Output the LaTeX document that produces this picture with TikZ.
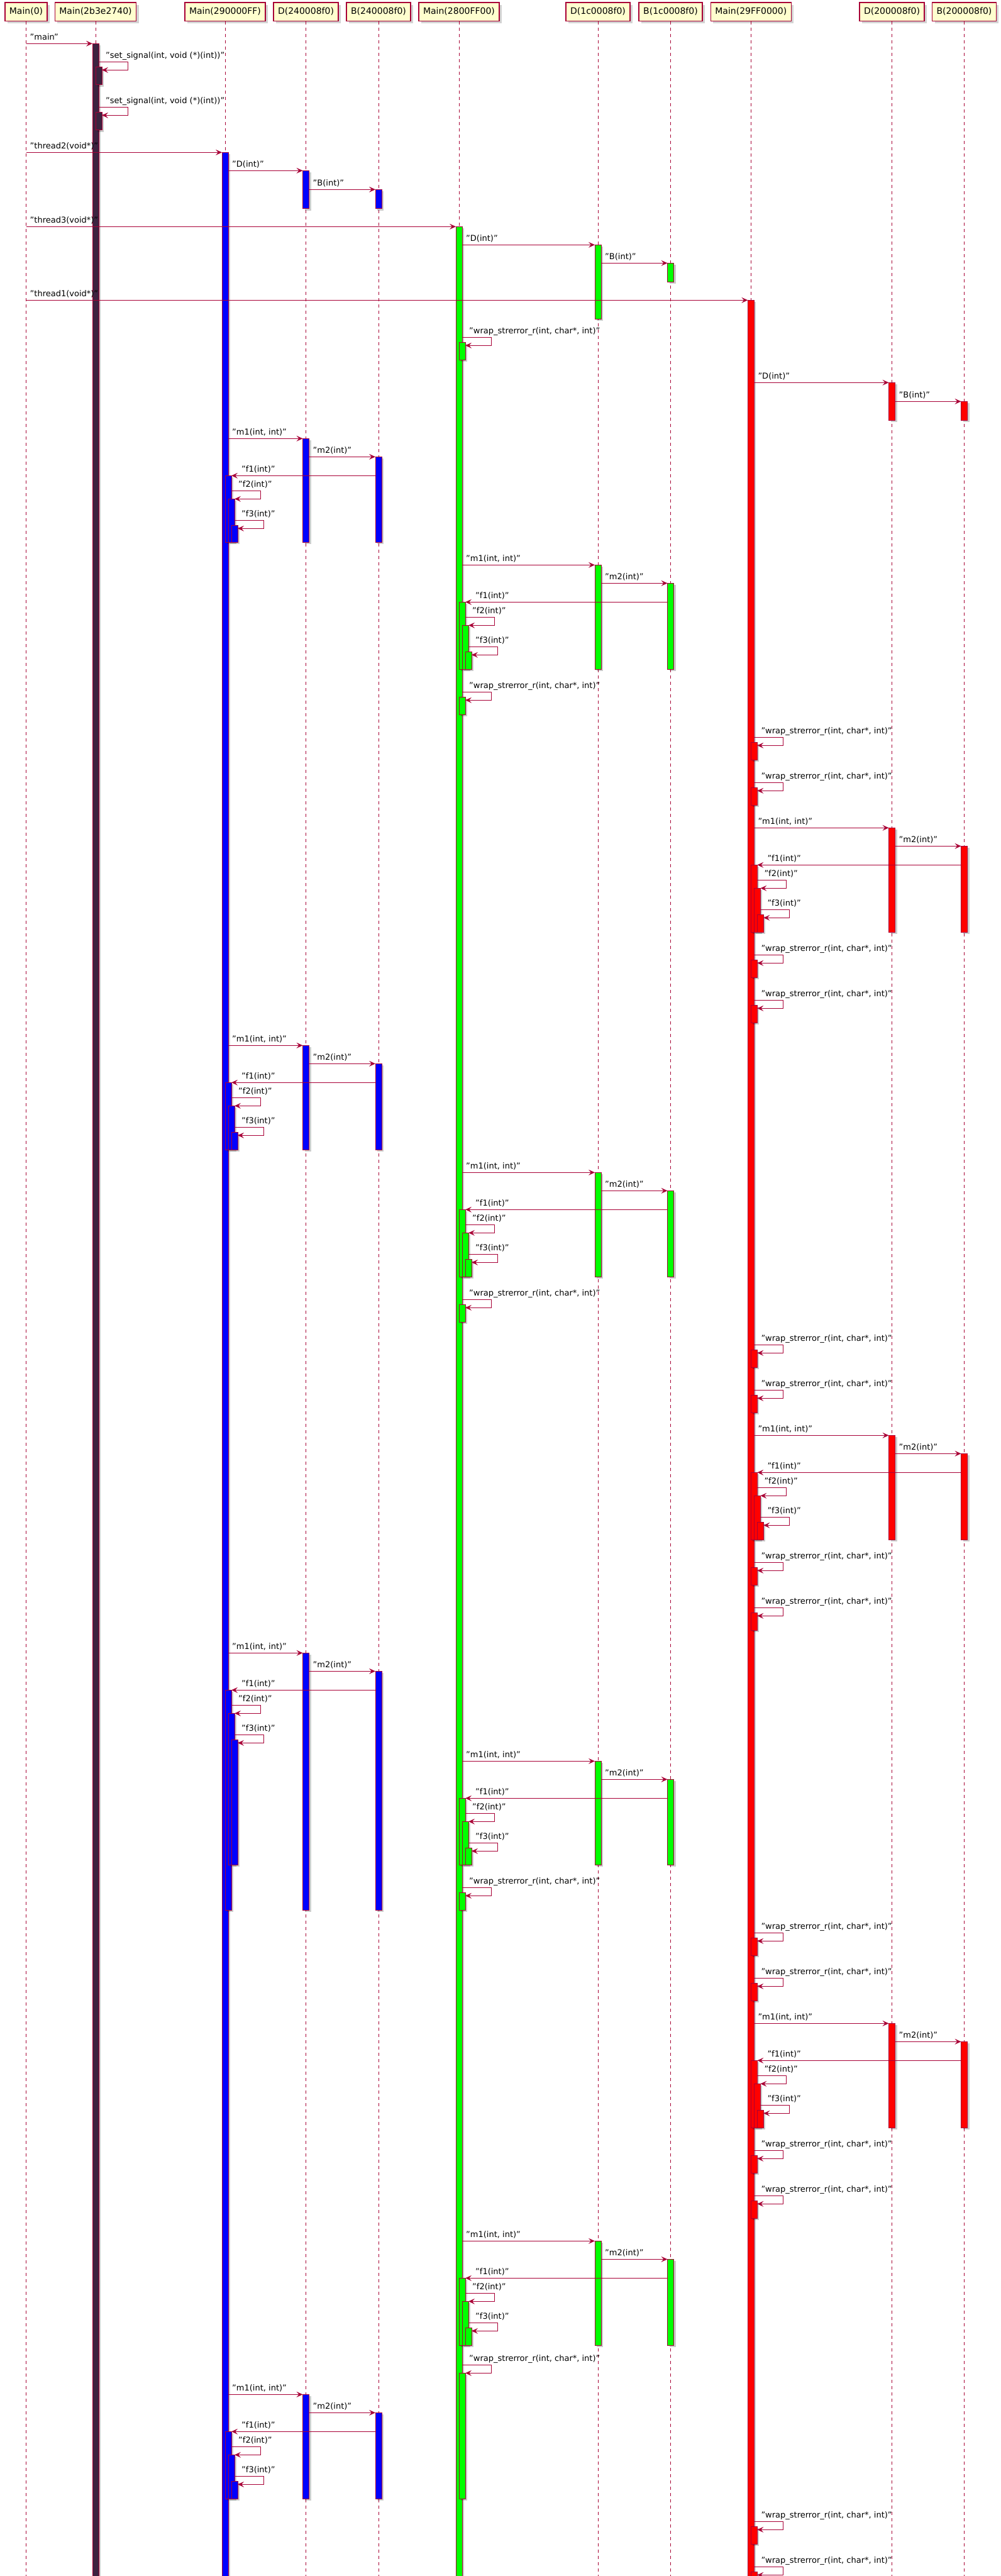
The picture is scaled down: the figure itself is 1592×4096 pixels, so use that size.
\documentclass[tikz,border=0pt]{standalone}
\usepackage{fontspec}
\setmainfont{DejaVu Sans}
\usetikzlibrary{calc,arrows.meta,shadows}

\definecolor{plred}{HTML}{A80036}
\definecolor{plyellow}{HTML}{FEFECE}
\definecolor{purp}{HTML}{3D2340}

\tikzset{
  actor/.style={draw=plred,fill=plyellow,line width=1.5pt,inner xsep=7pt,inner ysep=0pt,
    minimum height=29.5pt,font=\fontsize{14}{16}\selectfont,
    drop shadow={shadow xshift=4pt,shadow yshift=-4pt,opacity=.35}},
  life/.style={draw=plred,line width=1pt,dash pattern=on 5pt off 5pt},
  act/.style={draw=plred,line width=1pt},
  barshadow/.style={fill=black,opacity=.2},
  msg/.style={draw=plred,line width=1pt,-{Stealth[length=10pt,width=9pt,inset=4pt]}},
  lbl/.style={font=\fontsize{13}{15}\selectfont,inner sep=0pt,anchor=base west}
}

% activation bar: participant, level, from, to, colour
\newcommand\actbar[5]{%
  \fill[barshadow] ($(#1 |- 0,{#3})+({5*#2-7},3)$) rectangle ($(#1 |- 0,{#4})+({5*#2+3},3)$);
  \draw[act,fill=#5] ($(#1 |- 0,{#3})+({5*#2-10},0)$) rectangle ($(#1 |- 0,{#4})+({5*#2},0)$);}
% call to the right: from, offset, to, offset, y, text
\newcommand\msgcall[6]{%
  \draw[msg] ($(#1 |- 0,{#5})+(#2,0)$) -- ($(#3 |- 0,{#5})+(#4,0)$);
  \node[lbl] at ($(#1 |- 0,{#5})+({#2+6},-5.5)$) {#6};}
% call to the left onto a new bar: from, to, y, text
\newcommand\retcall[4]{%
  \draw[msg] ($(#1 |- 0,{#3})+(-5,0)$) -- ($(#2 |- 0,{#3})+(10,0)$);
  \node[lbl] at ($(#2 |- 0,{#3})+(26,-5.5)$) {#4};}
% self call: participant, current level, top, text
\newcommand\selfcall[4]{%
  \draw[msg] ($(#1 |- 0,{#3})+({5*#2},0)$) -- ++(46,0) -- ++(0,13)
    -- ($(#1 |- 0,{#3})+({5*#2+5},13)$);
  \node[lbl] at ($(#1 |- 0,{#3})+({5*#2+11},-5.5)$) {#4};}
\newcommand\wraptxt{"wrap\_strerror\_r(int, char*, int)"}
% wrap_strerror_r on a thread: thread, top, colour
\newcommand\wrapcall[3]{%
  \actbar{#1}{2}{#2+8}{#2+36}{#3}
  \selfcall{#1}{1}{#2}{\wraptxt}}
% m1/m2/f1/f2/f3: thread, D, B, y, colour, end of f2 f3, end of f1 D B
\newcommand\callcycle[7]{%
  \actbar{#2}{1}{#4}{#7}{#5}
  \actbar{#3}{1}{#4+29}{#7}{#5}
  \actbar{#1}{2}{#4+59}{#7}{#5}
  \actbar{#1}{3}{#4+96}{#6}{#5}
  \actbar{#1}{4}{#4+138}{#6}{#5}
  \msgcall{#1}{5}{#2}{-5}{#4}{"m1(int, int)"}
  \msgcall{#2}{5}{#3}{-5}{#4+29}{"m2(int)"}
  \retcall{#3}{#1}{#4+59}{"f1(int)"}
  \selfcall{#1}{2}{#4+83}{"f2(int)"}
  \selfcall{#1}{3}{#4+130}{"f3(int)"}}

\begin{document}
\begin{tikzpicture}[x=1pt,y=-1pt]
\useasboundingbox (0,0) rectangle (1592,4096);

% participants and lifelines
\foreach \n/\x/\t in {M0/41.5/Main(0), MA/152/Main(2b3e2740), T2/358/Main(290000FF),
    D24/486.5/D(240008f0), B24/602/B(240008f0), T3/730/Main(2800FF00),
    D1C/951/D(1c0008f0), B1C/1066.5/B(1c0008f0), T1/1194.3/Main(29FF0000),
    D20/1418.5/D(200008f0), B20/1533.5/B(200008f0)}
  \node[actor] (\n) at (\x,18.5) {\t};
\foreach \n in {M0,MA,T2,D24,B24,T3,D1C,B1C,T1,D20,B20}
  \draw[life] (\n.south) -- (\n |- 0,4100);

% thread bars
\actbar{MA}{1}{69.3}{4110}{purp}
\actbar{T2}{1}{242.3}{4110}{blue}
\actbar{T3}{1}{360.3}{4110}{green}
\actbar{T1}{1}{477.3}{4110}{red}
\actbar{MA}{2}{106.3}{134.7}{purp}
\actbar{MA}{2}{178.3}{206.7}{purp}
\actbar{D24}{1}{271.3}{331.7}{blue}
\actbar{B24}{1}{301.3}{331.7}{blue}
\actbar{D1C}{1}{389.3}{507.3}{green}
\actbar{B1C}{1}{418.3}{448.3}{green}
\actbar{T3}{2}{544.3}{572.3}{green}
\actbar{D20}{1}{608.3}{668.3}{red}
\actbar{B20}{1}{638.3}{668.3}{red}

% start up
\msgcall{M0}{0}{MA}{-5}{69.3}{"main"}
\selfcall{MA}{1}{98.3}{"set\_signal(int, void (*)(int))"}
\selfcall{MA}{1}{170.3}{"set\_signal(int, void (*)(int))"}
\msgcall{M0}{0}{T2}{-5}{242.3}{"thread2(void*)"}
\msgcall{T2}{5}{D24}{-5}{271.3}{"D(int)"}
\msgcall{D24}{5}{B24}{-5}{301.3}{"B(int)"}
\msgcall{M0}{0}{T3}{-5}{360.3}{"thread3(void*)"}
\msgcall{T3}{5}{D1C}{-5}{389.3}{"D(int)"}
\msgcall{D1C}{5}{B1C}{-5}{418.3}{"B(int)"}
\msgcall{M0}{0}{T1}{-5}{477.3}{"thread1(void*)"}
\selfcall{T3}{1}{536.3}{\wraptxt}
\msgcall{T1}{5}{D20}{-5}{608.3}{"D(int)"}
\msgcall{D20}{5}{B20}{-5}{638.3}{"B(int)"}

% calls
\callcycle{T2}{D24}{B24}{697.3}{blue}{862.3}{862.3}
\callcycle{T3}{D1C}{B1C}{898.3}{green}{1064.3}{1064.3}
\wrapcall{T3}{1100.3}{green}
\wrapcall{T1}{1172.3}{red}
\wrapcall{T1}{1244.3}{red}
\callcycle{T1}{D20}{B20}{1316.3}{red}{1482.3}{1482.3}
\wrapcall{T1}{1518.3}{red}
\wrapcall{T1}{1590.3}{red}
\callcycle{T2}{D24}{B24}{1662.3}{blue}{1828.3}{1828.3}
\callcycle{T3}{D1C}{B1C}{1864.3}{green}{2030.3}{2030.3}
\wrapcall{T3}{2066.3}{green}
\wrapcall{T1}{2138.3}{red}
\wrapcall{T1}{2210.3}{red}
\callcycle{T1}{D20}{B20}{2282.3}{red}{2448.3}{2448.3}
\wrapcall{T1}{2484.3}{red}
\wrapcall{T1}{2556.3}{red}
\callcycle{T2}{D24}{B24}{2628.3}{blue}{2965.3}{3037.3}
\callcycle{T3}{D1C}{B1C}{2800.3}{green}{2965.3}{2965.3}
\wrapcall{T3}{3001.3}{green}
\wrapcall{T1}{3073.3}{red}
\wrapcall{T1}{3145.3}{red}
\callcycle{T1}{D20}{B20}{3217.3}{red}{3383.3}{3383.3}
\wrapcall{T1}{3419.3}{red}
\wrapcall{T1}{3491.3}{red}
\callcycle{T3}{D1C}{B1C}{3563.3}{green}{3729.3}{3729.3}
\actbar{T3}{2}{3773.3}{3973.3}{green}
\selfcall{T3}{1}{3760.3}{\wraptxt}
\callcycle{T2}{D24}{B24}{3807.3}{blue}{3973.3}{3973.3}
\wrapcall{T1}{4009.3}{red}
\wrapcall{T1}{4081.3}{red}
\end{tikzpicture}
\end{document}
